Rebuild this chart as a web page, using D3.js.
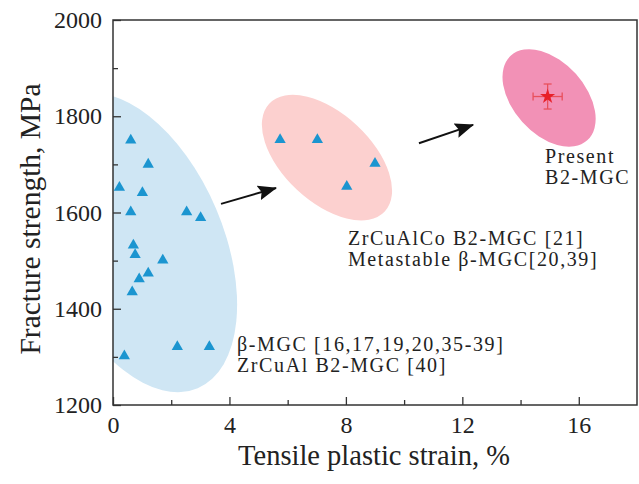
<!DOCTYPE html>
<html>
<head>
<meta charset="utf-8">
<script src="https://cdn.jsdelivr.net/npm/d3@7"></script>
<style>
body { margin: 0; background: #fff; }
svg text { font-family: "Liberation Serif", "Times New Roman", serif; fill: #222; }
</style>
</head>
<body>
<div id="holder"></div>
<script>
// tick values
const xTicks = [0, 4, 8, 12, 16];
const xMinorTicks = [2, 6, 10, 14];
const yTicks = [1200, 1400, 1600, 1800, 2000];
const yMinorTicks = [1300, 1500, 1700, 1900];

// beta-MGC / ZrCuAl B2-MGC
const betaStrain = [0.61, 1.21, 0.22, 1.01, 0.61, 2.53, 3.01, 0.70, 0.76, 1.71, 1.21, 0.90, 0.66, 0.39, 2.21, 3.31];
const betaStrength = [1750, 1700, 1652, 1641, 1601, 1601, 1589, 1532, 1512, 1501, 1474, 1462, 1435, 1302, 1321, 1321];

// ZrCuAlCo B2-MGC / metastable beta-MGC
const b2Strain = [5.74, 7.02, 9.00, 8.03];
const b2Strength = [1751, 1751, 1702, 1654];

// present work
const presentStrain = [14.93];
const presentStrength = [1841];
const presentStrainErr = [0.5];
const presentStrengthErr = [26];

// shaded regions (centre, in data units)
const regionNames = ['beta', 'b2', 'present'];
const regionStrain = [0.79, 7.35, 14.98];
const regionStrength = [1537, 1714, 1838];

// arrows
const arrowFrom = [[3.71, 1618], [10.51, 1744]];
const arrowTo = [[5.60, 1651], [12.37, 1782]];

// text labels
const labelLines = [
    ['β-MGC [16,17,19,20,35-39]', 'ZrCuAl B2-MGC [40]'],
    ['ZrCuAlCo B2-MGC [21]', 'Metastable β-MGC[20,39]'],
    ['Present', 'B2-MGC']
];
const labelStrain = [4.26, 8.07, 14.84];
const labelStrength = [1312, 1532, 1703];

const W = 639, H = 484;
const m = {left: 113, top: 20, right: 2, bottom: 79};
const w = W - m.left - m.right;
const h = H - m.top - m.bottom;

const regionStyle = {
    beta:    {rx: 87, ry: 158, rot: -23, fill: '#cfe6f4'},
    b2:      {rx: 79, ry: 44,  rot: 43,  fill: '#fcd0cf'},
    present: {rx: 57, ry: 36,  rot: 48,  fill: '#f291b6'}
};

const svg = d3.select('#holder')
    .append('svg')
    .attr('width', W)
    .attr('height', H);

const xScale = d3.scaleLinear().domain([0, 18]).range([0, w]);
const yScale = d3.scaleLinear().domain([1200, 2000]).range([h, 0]);

svg.append('defs')
    .append('clipPath')
    .attr('id', 'plotclip')
    .append('rect')
    .attr('width', w)
    .attr('height', h);

svg.select('defs')
    .append('marker')
    .attr('id', 'head')
    .attr('markerUnits', 'userSpaceOnUse')
    .attr('viewBox', '0 -8 20 16')
    .attr('refX', 18)
    .attr('refY', 0)
    .attr('markerWidth', 20)
    .attr('markerHeight', 16)
    .attr('orient', 'auto')
    .append('path')
    .attr('d', 'M0,-7.5L19,0L0,7.5L3,0Z')
    .attr('fill', '#111');

const g = svg.append('g')
    .attr('transform', 'translate(' + m.left + ',' + m.top + ')');

// regions
g.append('g')
    .attr('clip-path', 'url(#plotclip)')
    .selectAll('ellipse')
    .data(regionNames)
    .enter()
    .append('ellipse')
    .attr('rx', d => regionStyle[d].rx)
    .attr('ry', d => regionStyle[d].ry)
    .attr('fill', d => regionStyle[d].fill)
    .attr('transform', (d, i) => 'translate(' + xScale(regionStrain[i]) + ',' + yScale(regionStrength[i]) + ') rotate(' + regionStyle[d].rot + ')');

// arrows
g.selectAll('.arrow')
    .data(arrowFrom)
    .enter()
    .append('line')
    .attr('class', 'arrow')
    .attr('x1', d => xScale(d[0]))
    .attr('y1', d => yScale(d[1]))
    .attr('x2', (_, i) => xScale(arrowTo[i][0]))
    .attr('y2', (_, i) => yScale(arrowTo[i][1]))
    .attr('stroke', '#111')
    .attr('stroke-width', 2)
    .attr('marker-end', 'url(#head)');

// axes
const fontAxis = sel => {
    sel.attr('font-family', '"Liberation Serif", serif').attr('font-size', 24);
    sel.select('.domain').remove();
    sel.selectAll('line').attr('stroke', '#333').attr('stroke-width', 1.3);
};

g.append('g')
    .attr('transform', 'translate(0,' + h + ')')
    .call(d3.axisBottom(xScale).tickValues(xMinorTicks).tickSize(-5).tickFormat(''))
    .call(fontAxis);

g.append('g')
    .attr('transform', 'translate(0,' + h + ')')
    .call(d3.axisBottom(xScale).tickValues(xTicks).tickSize(-8).tickPadding(11).tickFormat(d3.format('d')))
    .call(fontAxis);

g.append('g')
    .call(d3.axisLeft(yScale).tickValues(yMinorTicks).tickSize(-5).tickFormat(''))
    .call(fontAxis);

g.append('g')
    .call(d3.axisLeft(yScale).tickValues(yTicks).tickSize(-8).tickPadding(11).tickFormat(d3.format('d')))
    .call(fontAxis);

g.selectAll('.tick text').attr('fill', '#222');

g.append('rect')
    .attr('width', w)
    .attr('height', h)
    .attr('fill', 'none')
    .attr('stroke', '#333')
    .attr('stroke-width', 1.5);

// points
const tri = d3.symbol(d3.symbolTriangle, 55);
g.selectAll('.beta')
    .data(betaStrain)
    .enter()
    .append('path')
    .attr('class', 'beta')
    .attr('d', tri)
    .attr('fill', '#1b95d0')
    .attr('transform', (d, i) => 'translate(' + xScale(d) + ',' + yScale(betaStrength[i]) + ')');

g.selectAll('.b2')
    .data(b2Strain)
    .enter()
    .append('path')
    .attr('class', 'b2')
    .attr('d', tri)
    .attr('fill', '#1b95d0')
    .attr('transform', (d, i) => 'translate(' + xScale(d) + ',' + yScale(b2Strength[i]) + ')');

// present point with error bars
const pres = g.selectAll('.present')
    .data(presentStrain)
    .enter()
    .append('g')
    .attr('class', 'present');

pres.each(function(d, i) {
    const p = d3.select(this);
    const cx = xScale(d), cy = yScale(presentStrength[i]);
    const x0 = xScale(d - presentStrainErr[i]), x1 = xScale(d + presentStrainErr[i]);
    const y0 = yScale(presentStrength[i] + presentStrengthErr[i]), y1 = yScale(presentStrength[i] - presentStrengthErr[i]);
    const segs = [
        [x0, cy, x1, cy], [x0, cy - 4, x0, cy + 4], [x1, cy - 4, x1, cy + 4],
        [cx, y0, cx, y1], [cx - 4, y0, cx + 4, y0], [cx - 4, y1, cx + 4, y1]
    ];
    p.selectAll('line')
        .data(segs)
        .enter()
        .append('line')
        .attr('x1', s => s[0]).attr('y1', s => s[1])
        .attr('x2', s => s[2]).attr('y2', s => s[3])
        .attr('stroke', '#e8505c')
        .attr('stroke-width', 1.3);
    p.append('path')
        .attr('d', d3.symbol(d3.symbolStar, 70))
        .attr('fill', '#e8202a')
        .attr('transform', 'translate(' + cx + ',' + cy + ')');
});

// labels
g.selectAll('.label')
    .data(labelLines)
    .enter()
    .append('text')
    .attr('class', 'label')
    .attr('font-size', 20)
    .attr('letter-spacing', 1.6)
    .attr('transform', (d, i) => 'translate(' + xScale(labelStrain[i]) + ',' + yScale(labelStrength[i]) + ')')
    .selectAll('tspan')
    .data(d => d)
    .enter()
    .append('tspan')
    .attr('x', 0)
    .attr('y', (_, j) => j * 21)
    .text(d => d);

// axis titles
svg.append('text')
    .attr('x', 374)
    .attr('y', 465)
    .attr('text-anchor', 'middle')
    .attr('font-size', 28.5)
    .text('Tensile plastic strain, %');

svg.append('text')
    .attr('transform', 'translate(40,219) rotate(-90)')
    .attr('text-anchor', 'middle')
    .attr('font-size', 29.5)
    .text('Fracture strength, MPa');
</script>
</body>
</html>
